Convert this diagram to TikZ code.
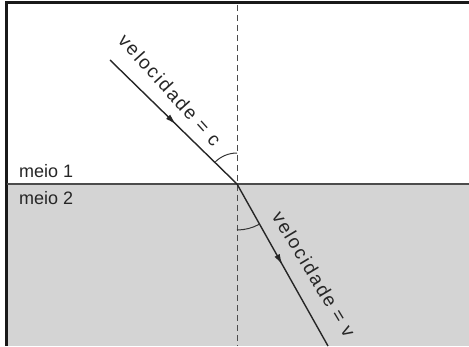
\documentclass[tikz,border=0pt]{standalone}
\usepackage{fontspec}
\setmainfont{Liberation Sans}
\newfontfamily\spacedsans[LetterSpace=10]{Liberation Sans}
\usetikzlibrary{arrows.meta, decorations.markings}

\begin{document}
\begin{tikzpicture}[
    x=1pt, y=1pt,
    frame/.style={line width=2.5pt, black!90},
    medium/.style={fill=black!17, draw=none},
    interface/.style={line width=1.8pt, black!70},
    normal/.style={black!70, line width=1pt, dash pattern=on 6pt off 4pt},
    ray/.style={line width=1.4pt, black!85},
    midarrow/.style={postaction={decorate}, decoration={markings,
        mark=at position #1 with {\arrow{Latex[length=11pt, width=6pt]}}}},
    angarc/.style={line width=1pt, black!80},
    lbl/.style={font=\fontsize{18}{21}\selectfont, text=black!85, inner sep=0pt},
    raylbl/.style={font=\spacedsans\fontsize{19}{22}\selectfont, text=black!85, inner sep=0pt},
]
\useasboundingbox (0,0) rectangle (469,346);

% ── Points ──
\coordinate (O) at (237,162);
\coordinate (A) at (110,286);
\coordinate (B) at (328,0);
\coordinate (Ntop) at (237,341);
\coordinate (Nbot) at (237,0);
\coordinate (Ileft) at (7,162);
\coordinate (Iright) at (469,162);

% ── Media ──
\fill[medium] (7,0) rectangle (469,161);
\draw[frame] (469,343.5) -- (6.5,343.5) -- (6.5,0);
\draw[interface] (Ileft) -- (Iright);
\draw[normal] (Ntop) -- (Nbot);

% ── Rays ──
\draw[ray, midarrow=0.52] (A) -- (O);
\draw[ray, midarrow=0.5] (O) -- (B);

% ── Angles ──
\draw[angarc] ([shift={(90:31)}]O) arc[start angle=90, end angle=135.7, radius=31];
\draw[angarc] ([shift={(270:46)}]O) arc[start angle=270, end angle=299.3, radius=46];

% ── Labels ──
\node[lbl, anchor=base west] (meio1) at (19,168) {meio 1};
\node[lbl, anchor=base west] (meio2) at (19,141) {meio 2};
\node[raylbl, rotate=-48] (velc) at (170,256) {velocidade = c};
\node[raylbl, rotate=-59] (velv) at (314,72) {velocidade = v};

\end{tikzpicture}
\end{document}
